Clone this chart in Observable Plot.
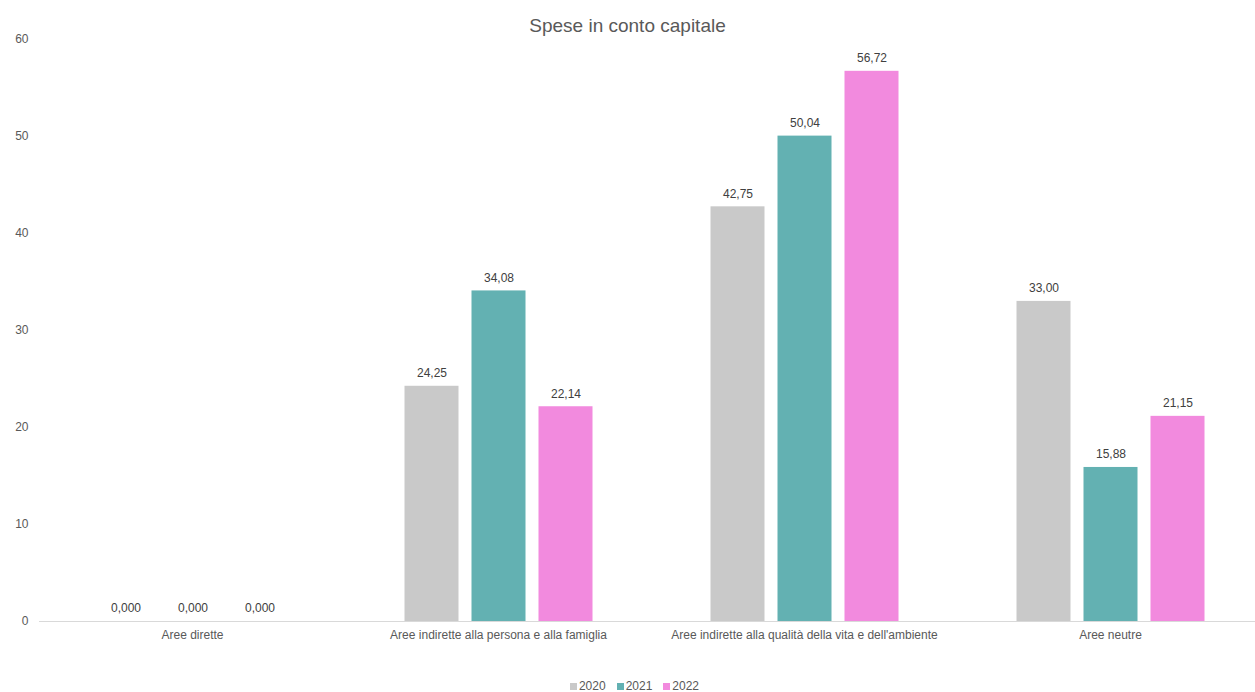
<!DOCTYPE html>
<html>
<head>
<meta charset="utf-8">
<script src="https://cdn.jsdelivr.net/npm/d3@7"></script>
<script src="https://cdn.jsdelivr.net/npm/@observablehq/plot@0.6"></script>
<style>
  html, body { margin: 0; padding: 0; background: #fff; }
  body { width: 1255px; height: 692px; overflow: hidden; font-family: "Liberation Sans", Arial, sans-serif; color: #595959; }
  #title { height: 30px; box-sizing: border-box; padding-top: 16px; font-size: 19px; line-height: 19px; text-align: center; color: #595959; }
  #legend { display: flex; justify-content: center; align-items: center; gap: 11px; padding-top: 20px; padding-left: 14px; font-size: 12px; line-height: 12px; color: #595959; }
  #legend span.sw { display: inline-block; width: 7px; height: 7px; margin-right: 2px; }
</style>
</head>
<body>
<div id="title">Spese in conto capitale</div>
<div id="chart"></div>
<div id="legend"></div>
<script>
const categories = [
  "Aree dirette",
  "Aree indirette alla persona e alla famiglia",
  "Aree indirette alla qualità della vita e dell'ambiente",
  "Aree neutre"
];
const years = ["2020", "2021", "2022"];
const colors = ["#c9c9c9", "#63b1b2", "#f28ade"];
const values2020 = [0, 24.25, 42.75, 33.00];
const values2021 = [0, 34.08, 50.04, 15.88];
const values2022 = [0, 22.14, 56.72, 21.15];
const yTicks = [0, 10, 20, 30, 40, 50, 60];

const series = [values2020, values2021, values2022];
const data = [];
categories.forEach((c, i) => {
  years.forEach((y, j) => {
    data.push({category: c, year: y, value: series[j][i]});
  });
});
const fmt = v => v === 0 ? "0,000" : v.toFixed(2).replace(".", ",");

const chart = Plot.plot({
  width: 1255,
  height: 630,
  marginTop: 9,
  marginBottom: 39,
  marginLeft: 37.5,
  marginRight: -10,
  style: {fontFamily: "'Liberation Sans', Arial, sans-serif", fontSize: "12px", color: "#595959", background: "transparent"},
  fx: {domain: categories, padding: 0, label: null, tickSize: 0, tickPadding: 9, axis: "bottom"},
  x: {domain: years, paddingInner: 0.2, paddingOuter: 0.874, axis: null},
  y: {domain: [0, 60], ticks: yTicks, label: null, tickSize: 0, tickPadding: 11},
  color: {domain: years, range: colors},
  marks: [
    Plot.barY(data, {fx: "category", x: "year", y: "value", fill: "year"}),
    Plot.ruleY([0], {stroke: "#d9d9d9", strokeWidth: 1}),
    Plot.text(data, {fx: "category", x: "year", y: "value", text: d => fmt(d.value), dy: -13, fill: "#404040", fontSize: 12}),
    Plot.axisY({ticks: yTicks, tickSize: 0, tickPadding: 11, label: null, fill: "#595959", fontSize: 12})
  ]
});
document.getElementById("chart").appendChild(chart);

const legend = document.getElementById("legend");
years.forEach((y, j) => {
  const item = document.createElement("div");
  item.innerHTML = `<span class="sw" style="background:${colors[j]}"></span>${y}`;
  legend.appendChild(item);
});
</script>
</body>
</html>
